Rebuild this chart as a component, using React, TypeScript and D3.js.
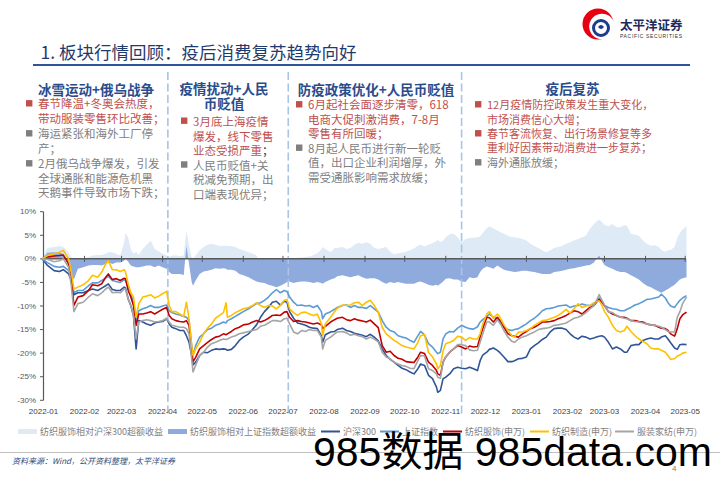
import React from "react";
import * as d3 from "d3";

// ---------------- DATA ----------------
const dates = [
  "2021-12-31","2022-01-04","2022-01-09","2022-01-13","2022-01-16","2022-01-20","2022-01-22","2022-01-24","2022-01-27","2022-01-31",
  "2022-02-04","2022-02-07","2022-02-11","2022-02-14","2022-02-17","2022-02-19","2022-02-22","2022-02-25","2022-02-28","2022-03-03",
  "2022-03-04","2022-03-06","2022-03-08","2022-03-10","2022-03-12","2022-03-14","2022-03-17","2022-03-20","2022-03-23","2022-03-26",
  "2022-03-29","2022-04-01","2022-04-04","2022-04-06","2022-04-08","2022-04-11","2022-04-14","2022-04-17","2022-04-19","2022-04-21",
  "2022-04-23","2022-04-24","2022-04-26","2022-04-29","2022-05-02","2022-05-05","2022-05-08","2022-05-11","2022-05-14","2022-05-17",
  "2022-05-19","2022-05-20","2022-05-23","2022-05-26","2022-05-29","2022-06-01","2022-06-05","2022-06-08","2022-06-11","2022-06-14",
  "2022-06-17","2022-06-20","2022-06-23","2022-06-26","2022-06-29","2022-07-02","2022-07-04","2022-07-06","2022-07-09","2022-07-12",
  "2022-07-15","2022-07-18","2022-07-21","2022-07-24","2022-07-27","2022-07-30","2022-07-31","2022-08-02","2022-08-06","2022-08-09",
  "2022-08-11","2022-08-15","2022-08-18","2022-08-21","2022-08-24","2022-08-27","2022-08-30","2022-09-02","2022-09-05","2022-09-08",
  "2022-09-11","2022-09-14","2022-09-17","2022-09-20","2022-09-23","2022-09-26","2022-09-29","2022-10-02","2022-10-05","2022-10-08",
  "2022-10-11","2022-10-13","2022-10-16","2022-10-19","2022-10-22","2022-10-25","2022-10-26","2022-10-28","2022-10-30","2022-11-01",
  "2022-11-04","2022-11-07","2022-11-10","2022-11-13","2022-11-16","2022-11-19","2022-11-22","2022-11-25","2022-11-27","2022-11-29",
  "2022-12-02","2022-12-04","2022-12-07","2022-12-10","2022-12-12","2022-12-15","2022-12-18","2022-12-21","2022-12-23","2022-12-26",
  "2022-12-29","2023-01-01","2023-01-04","2023-01-07","2023-01-10","2023-01-13","2023-01-16","2023-01-19","2023-01-22","2023-01-25",
  "2023-01-28","2023-01-31","2023-02-03","2023-02-06","2023-02-09","2023-02-12","2023-02-15","2023-02-18","2023-02-21","2023-02-23",
  "2023-02-25","2023-02-27","2023-03-01","2023-03-04","2023-03-07","2023-03-10","2023-03-13","2023-03-16","2023-03-18","2023-03-21",
  "2023-03-24","2023-03-27","2023-03-30","2023-04-02","2023-04-05","2023-04-08","2023-04-11","2023-04-13","2023-04-16","2023-04-18",
  "2023-04-20","2023-04-23","2023-04-25","2023-04-27","2023-04-29","2023-05-02",
];

// 沪深300
const hs300 = [
  0, -1.4, -2.5, -2.7, -2.3, -3.2, -4.6, -7.6, -7.2, -7.2,
  -6.7, -6.4, -6.7, -6.2, -5.7, -5.3, -6.5, -6.7, -6.7, -6.0,
  -6.2, -8.5, -9.9, -12.0, -19.1, -13.1, -13.4, -13.8, -14.1, -13.6,
  -13.4, -13.3, -12.7, -13.8, -14.5, -14.8, -15.2, -15.2, -16.3, -17.7,
  -20.5, -22.5, -21.9, -20.5, -19.8, -19.9, -19.4, -19.1, -19.2, -19.1,
  -19.2, -19.4, -19.2, -18.4, -17.3, -16.6, -15.9, -15.0, -14.0, -12.4,
  -11.2, -10.3, -9.2, -9.0, -9.8, -9.0, -9.2, -11.2, -12.6, -13.6,
  -13.8, -14.1, -14.5, -14.7, -14.8, -16.3, -17.7, -16.1, -15.5, -15.4,
  -15.0, -14.7, -15.2, -15.4, -15.8, -16.0, -16.2, -16.5, -16.0, -16.6,
  -17.4, -19.1, -20.5, -21.3, -21.9, -22.6, -23.2, -23.5, -24.0, -24.4,
  -23.3, -22.3, -22.6, -24.7, -25.4, -27.2, -28.3, -27.9, -25.4, -25.1,
  -24.4, -23.3, -23.0, -23.2, -23.3, -23.0, -23.3, -23.7, -21.6, -20.4,
  -19.8, -19.2, -18.9, -19.4, -19.9, -20.8, -21.8, -21.8, -21.6, -21.2,
  -21.1, -20.8, -19.1, -18.4, -17.8, -17.1, -16.6, -15.5, -14.8, -14.7,
  -14.7, -15.0, -15.9, -16.6, -17.0, -16.4, -16.6, -17.0, -16.8, -16.6,
  -16.4, -16.3, -16.6, -17.7, -19.1, -18.7, -19.1, -19.8, -19.8, -18.4,
  -18.2, -18.2, -17.3, -17.0, -16.8, -17.0, -17.0, -16.6, -16.3, -17.0,
  -17.8, -18.9, -19.2, -18.2, -18.1, -18.2,
];

// 上证指数
const shIndex = [
  0, -0.8, -1.6, -1.8, -1.6, -2.5, -3.9, -7.2, -6.7, -6.7,
  -5.7, -5.1, -5.1, -4.6, -4.1, -3.7, -4.6, -4.8, -5.0, -4.4,
  -4.6, -6.0, -7.4, -9.2, -13.1, -11.0, -10.6, -10.3, -9.9, -10.3,
  -10.3, -10.0, -9.8, -11.0, -11.4, -11.7, -11.9, -12.2, -12.4, -13.1,
  -18.4, -20.5, -18.4, -16.6, -15.9, -15.0, -14.7, -14.1, -13.8, -13.4,
  -13.6, -13.1, -12.7, -12.2, -11.7, -11.2, -10.6, -10.0, -9.5, -9.3,
  -8.8, -8.1, -7.2, -6.5, -7.2, -6.7, -6.9, -8.1, -9.2, -9.9,
  -9.8, -10.0, -9.9, -10.3, -9.9, -11.2, -12.7, -11.7, -11.2, -10.7,
  -10.3, -9.9, -9.8, -10.3, -9.9, -10.3, -10.3, -10.5, -9.9, -10.6,
  -11.3, -13.1, -14.5, -15.2, -15.5, -16.3, -16.6, -16.8, -17.3, -17.7,
  -16.3, -15.4, -16.1, -18.0, -18.7, -19.8, -20.1, -19.8, -17.0, -15.9,
  -15.4, -15.5, -14.7, -14.1, -14.5, -14.8, -14.9, -14.4, -13.4, -12.9,
  -12.2, -11.7, -12.4, -12.7, -13.6, -14.5, -15.0, -15.2, -15.0, -14.8,
  -14.3, -13.8, -13.1, -12.6, -11.9, -11.0, -10.6, -10.5, -10.3, -10.0,
  -9.9, -9.8, -10.3, -10.0, -9.9, -9.6, -9.8, -9.9, -9.5, -9.1,
  -8.3, -8.8, -9.9, -10.3, -10.6, -10.7, -11.0, -11.0, -10.7, -10.3,
  -9.8, -9.5, -9.1, -8.6, -8.5, -8.3, -8.1, -7.5, -8.3, -9.3,
  -10.0, -10.3, -9.5, -8.8, -8.3, -7.8,
];

// 纺织服饰(申万)
const textileApparel = [
  0, 0.4, 0.6, 0.7, 0.8, -1.1, -4.2, -9.9, -8.1, -7.8,
  -6.7, -5.5, -5.7, -5.3, -3.9, -3.2, -4.4, -4.2, -4.6, -4.1,
  -4.2, -6.7, -8.1, -9.9, -14.1, -11.7, -11.7, -11.5, -11.2, -11.7,
  -11.2, -10.7, -10.3, -12.0, -12.7, -13.1, -13.3, -13.4, -13.1, -14.1,
  -19.4, -21.8, -20.9, -19.1, -18.4, -17.7, -17.1, -16.6, -16.4, -15.9,
  -16.1, -15.9, -15.4, -14.8, -14.5, -14.0, -13.8, -13.4, -13.1, -13.4,
  -13.1, -12.6, -12.0, -11.9, -12.0, -11.3, -11.2, -12.4, -13.3, -13.1,
  -13.3, -13.4, -13.6, -13.8, -13.6, -14.0, -14.8, -14.3, -13.4, -12.9,
  -12.6, -12.4, -12.9, -13.1, -12.7, -13.0, -13.2, -13.4, -13.0, -13.8,
  -14.6, -18.4, -19.8, -19.6, -20.5, -21.1, -21.3, -21.8, -21.9, -22.0,
  -20.8, -19.8, -20.1, -21.9, -22.6, -23.7, -24.4, -24.7, -21.9, -20.8,
  -19.8, -19.1, -18.4, -18.7, -19.1, -18.5, -18.7, -18.6, -16.6, -14.8,
  -12.4, -12.5, -13.4, -12.4, -13.1, -14.5, -15.9, -16.3, -16.4, -16.6,
  -15.9, -15.4, -14.8, -14.5, -14.0, -13.4, -13.4, -13.3, -13.1, -12.7,
  -12.4, -12.0, -11.5, -11.0, -11.2, -11.7, -11.0, -10.3, -9.9, -9.2,
  -8.6, -9.2, -9.9, -11.2, -11.7, -12.0, -12.4, -12.4, -12.6, -13.1,
  -13.1, -13.3, -13.4, -13.8, -14.0, -14.1, -14.5, -14.7, -14.8, -15.2,
  -15.9, -16.4, -14.8, -12.7, -11.9, -11.3,
];

// 纺织制造(申万)
const textileMfg = [
  0, 0.7, 1.1, 1.4, 1.8, 0.0, -2.8, -6.4, -6.0, -5.5,
  -4.6, -3.5, -3.9, -2.8, -1.1, -0.4, -2.3, -2.3, -2.7, -2.3,
  -2.8, -5.3, -7.2, -8.1, -12.4, -9.5, -8.1, -7.9, -7.6, -8.3,
  -7.9, -7.4, -6.9, -9.9, -11.2, -11.2, -11.7, -12.2, -9.2, -12.7,
  -18.4, -20.5, -19.1, -17.7, -15.9, -14.7, -13.8, -12.6, -12.0, -11.4,
  -9.3, -12.4, -12.0, -11.4, -11.0, -10.6, -10.3, -9.9, -9.3, -9.9,
  -10.3, -9.9, -10.0, -10.6, -9.9, -8.8, -8.6, -10.6, -11.4, -12.0,
  -11.4, -11.3, -11.7, -12.0, -11.7, -13.8, -16.3, -13.8, -12.4, -11.2,
  -10.5, -9.8, -9.9, -9.8, -9.3, -9.2, -9.9, -9.2, -8.8, -9.9,
  -11.3, -14.5, -15.9, -16.6, -17.3, -17.8, -18.4, -18.7, -18.9, -19.1,
  -17.7, -16.3, -16.1, -19.8, -20.8, -22.3, -23.3, -22.6, -19.5, -18.0,
  -17.7, -17.3, -16.4, -16.6, -17.3, -16.7, -17.0, -17.0, -15.9, -13.8,
  -11.7, -11.2, -12.6, -11.7, -12.4, -14.0, -15.2, -16.3, -16.6, -15.5,
  -15.5, -15.2, -14.8, -14.1, -13.6, -13.1, -13.0, -12.7, -12.4, -12.0,
  -11.4, -10.7, -11.5, -10.6, -9.5, -10.3, -10.0, -9.9, -9.3, -9.1,
  -8.9, -9.8, -11.2, -12.4, -14.1, -15.2, -15.5, -15.2, -14.3, -15.4,
  -16.3, -17.0, -17.5, -18.0, -18.9, -19.1, -19.1, -19.4, -19.8, -20.5,
  -21.3, -21.2, -20.6, -20.4, -20.0, -19.8,
];

// 服装家纺(申万)
const apparelHome = [
  0, -0.1, -0.6, -0.4, 0.0, -1.8, -5.7, -11.2, -9.5, -9.2,
  -8.1, -7.4, -7.8, -7.2, -6.4, -6.0, -7.2, -7.1, -7.2, -6.4,
  -6.4, -8.5, -9.9, -12.0, -17.0, -13.4, -13.1, -12.9, -13.1, -13.4,
  -13.3, -13.1, -12.6, -13.4, -14.1, -14.3, -14.5, -14.5, -14.8, -15.9,
  -21.2, -24.0, -22.6, -20.5, -19.8, -18.7, -18.0, -17.7, -17.3, -17.0,
  -17.1, -17.0, -16.6, -16.3, -15.9, -15.7, -15.4, -15.2, -15.0, -14.3,
  -14.1, -13.6, -13.1, -13.1, -13.3, -12.7, -12.6, -13.8, -15.5, -15.9,
  -15.2, -15.4, -15.0, -15.2, -15.2, -16.6, -19.1, -17.3, -16.6, -15.9,
  -15.5, -15.4, -15.7, -16.2, -16.0, -16.3, -16.5, -17.0, -16.6, -17.0,
  -17.6, -19.8, -20.8, -21.2, -21.9, -22.3, -22.6, -22.8, -23.2, -23.3,
  -21.6, -20.5, -20.6, -23.3, -23.7, -24.4, -25.1, -25.3, -21.9, -20.8,
  -19.8, -19.1, -18.2, -18.2, -18.4, -19.3, -19.5, -19.4, -17.7, -15.9,
  -13.4, -13.4, -14.1, -12.9, -13.6, -15.2, -16.6, -17.5, -17.7, -17.0,
  -16.6, -16.3, -15.9, -15.5, -15.0, -14.8, -14.7, -14.5, -14.1, -14.0,
  -13.8, -13.6, -13.1, -12.6, -12.4, -12.0, -11.4, -10.6, -9.9, -8.8,
  -7.6, -8.8, -9.8, -11.2, -11.4, -12.0, -12.4, -12.6, -12.7, -13.1,
  -13.3, -13.4, -13.6, -13.8, -14.0, -14.1, -14.3, -14.5, -15.0, -15.4,
  -15.5, -15.5, -12.4, -11.2, -9.5, -8.1,
];

// 纺织服饰相对沪深300超额收益
const excessVsHs300 = [
  0, 2.3, 2.5, 2.7, 2.5, 1.4, 0.4, -1.1, 0.0, 0.1,
  0.4, 0.7, 0.8, 0.8, 1.1, 1.4, 1.4, 1.1, 0.7, 3.5,
  5.5, 4.6, 2.1, 1.1, 1.5, 0.8, 2.1, 3.0, 3.9, 2.1,
  1.6, 1.1, 0.7, 0.4, 0.7, 0.7, 0.6, 0.7, 6.0, 2.8,
  0.4, 0.0, 0.7, 1.8, 2.5, 3.0, 3.2, 3.0, 2.7, 2.8,
  2.8, 2.7, 2.7, 2.5, 2.1, 1.8, 1.4, 1.1, 0.7, -1.0,
  -1.9, -2.3, -2.8, -2.8, -2.3, -2.3, -2.0, -1.2, -0.7, 0.3,
  0.3, 0.4, 0.5, 0.8, 1.2, 2.0, 2.5, 2.1, 1.4, 2.3,
  2.3, 2.5, 2.1, 2.3, 3.0, 3.4, 3.2, 3.5, 3.2, 2.3,
  2.1, 2.3, 2.5, 1.5, 1.0, 1.2, 1.3, 1.5, 1.8, 2.2,
  2.8, 3.0, 2.6, 3.0, 3.3, 3.8, 4.0, 3.6, 3.8, 4.6,
  5.2, 5.4, 4.6, 3.5, 4.2, 4.4, 4.5, 4.6, 4.8, 5.5,
  6.5, 6.9, 6.5, 6.0, 5.7, 5.3, 4.9, 4.6, 4.6, 4.4,
  4.2, 3.9, 3.2, 2.7, 2.3, 1.8, 1.4, 1.8, 2.3, 2.5,
  2.7, 3.2, 3.5, 3.9, 4.2, 4.6, 4.9, 6.4, 7.4, 7.9,
  8.3, 7.8, 7.2, 6.9, 7.4, 6.7, 6.7, 7.2, 7.0, 5.3,
  5.1, 4.9, 3.9, 3.2, 2.8, 2.9, 2.5, 1.9, 1.5, 1.8,
  1.9, 2.5, 4.4, 5.5, 6.2, 6.9,
];

// 纺织服饰相对上证指数超额收益
const excessVsSh = [
  0, 1.3, 1.4, 1.4, 1.1, -1.1, -3.5, -4.4, -2.1, -1.8,
  -1.4, -1.3, -1.3, -1.4, -1.1, -0.7, -1.1, -0.8, -0.8, -0.4,
  0.0, -0.6, -1.4, -1.6, -1.8, -1.8, -1.6, -1.4, -1.4, -1.8,
  -1.4, -1.8, -2.1, -2.8, -3.2, -3.2, -3.2, -3.4, 2.8, -1.1,
  -4.9, -5.7, -4.6, -3.2, -2.7, -2.5, -2.3, -2.0, -2.1, -2.0,
  -2.1, -2.3, -2.3, -2.5, -3.2, -3.5, -3.9, -4.4, -4.8, -5.0,
  -5.1, -5.5, -5.7, -6.0, -5.7, -5.3, -4.9, -4.8, -5.1, -4.9,
  -4.8, -4.8, -4.9, -5.1, -4.9, -5.1, -5.3, -4.9, -4.4, -4.1,
  -3.7, -3.5, -3.7, -3.9, -3.7, -3.5, -3.9, -4.2, -4.1, -4.1,
  -4.4, -4.9, -5.3, -4.9, -5.1, -4.9, -5.1, -5.3, -5.3, -5.3,
  -4.9, -4.8, -5.1, -5.5, -5.7, -5.5, -5.7, -5.3, -4.8, -4.2,
  -4.1, -4.4, -4.4, -4.8, -4.9, -3.9, -4.1, -3.9, -2.8, -2.1,
  -1.6, -1.8, -2.1, -1.4, -1.8, -2.3, -2.5, -2.7, -2.8, -2.7,
  -2.5, -2.5, -2.7, -2.8, -3.0, -3.2, -3.2, -3.2, -2.8, -2.7,
  -2.5, -2.3, -2.1, -2.0, -1.8, -1.6, -1.4, -1.3, -0.8, 0.0,
  0.7, -0.4, -1.3, -1.8, -2.1, -2.5, -2.8, -2.8, -3.0, -3.5,
  -3.9, -4.4, -5.1, -5.7, -6.0, -6.5, -6.9, -7.2, -6.7, -6.4,
  -6.0, -5.5, -4.9, -4.4, -4.1, -3.9,
];

const yTicks = [10, 5, 0, -5, -10, -15, -20, -25, -30];
const phaseDates = ["2022-04-05", "2022-07-05", "2022-11-13"];

const seriesLines = [
  { name: "沪深300", values: hs300, color: "#2F5597" },
  { name: "上证指数", values: shIndex, color: "#5B9BD5" },
  { name: "纺织服饰(申万)", values: textileApparel, color: "#C00000" },
  { name: "纺织制造(申万)", values: textileMfg, color: "#FFC000" },
  { name: "服装家纺(申万)", values: apparelHome, color: "#A5A5A5" },
];
const seriesAreas = [
  { name: "纺织服饰相对沪深300超额收益", values: excessVsHs300, color: "#DEEAF6" },
  { name: "纺织服饰相对上证指数超额收益", values: excessVsSh, color: "#8FAADC" },
];

const panels = [
  {
    title: ["冰雪运动+俄乌战争"],
    bullets: [
      { kind: "red", lines: ["春节降温+冬奥会热度，", "带动服装零售环比改善；"] },
      { kind: "gray", lines: ["海运紧张和海外工厂停", "产；"] },
      { kind: "gray", lines: ["2月俄乌战争爆发，引发", "全球通胀和能源危机黑", "天鹅事件导致市场下跌；"] },
    ],
  },
  {
    title: ["疫情扰动+人民", "币贬值"],
    bullets: [
      { kind: "red", lines: ["3月底上海疫情", "爆发，线下零售", "业态受损严重；"], darkTail: true },
      { kind: "gray", lines: ["人民币贬值+关", "税减免预期，出", "口端表现优异；"] },
    ],
  },
  {
    title: ["防疫政策优化+人民币贬值"],
    bullets: [
      { kind: "red", lines: ["6月起社会面逐步清零，618", "电商大促刺激消费，7-8月", "零售有所回暖；"] },
      { kind: "gray", lines: ["8月起人民币进行新一轮贬", "值，出口企业利润增厚，外", "需受通胀影响需求放缓；"] },
    ],
  },
  {
    title: ["疫后复苏"],
    bullets: [
      { kind: "red", lines: ["12月疫情防控政策发生重大变化，", "市场消费信心大增；"] },
      { kind: "red", lines: ["春节客流恢复、出行场景修复等多", "重利好因素带动消费进一步复苏；"] },
      { kind: "gray", lines: ["海外通胀放缓；"] },
    ],
  },
];

// layout for text panels
const panelLayout = [
  { cx: 96, titleYs: [89], bx: 26, tx: 38, ys: [103.3, 118.3, 133.3, 148.3, 163.3, 177.7, 192.3], fs: 11.5 },
  { cx: 224, titleYs: [88.3, 103.3], bx: 181, tx: 193, ys: [120.7, 135.5, 150, 164.5, 179, 193.5], fs: 11.5 },
  { cx: 376, titleYs: [89], bx: 296, tx: 308, ys: [104.3, 119.3, 133.3, 147.7, 162.3, 176.7], fs: 11.5 },
  { cx: 572.5, titleYs: [88.3], bx: 475, tx: 487, ys: [104.3, 118.7, 133.3, 147.3, 162.3], fs: 11 },
];

const CJK = "'Noto Sans CJK SC', 'Noto Sans', sans-serif";
const LAT = "'Liberation Sans', Arial, 'Noto Sans CJK SC', sans-serif";
const RED = "#C0504D";
const GRAY = "#808080";

export default function App() {
  const parse = d3.timeParse("%Y-%m-%d");
  const D = dates.map((d) => parse(d) as Date);
  const x = d3.scaleTime().domain([new Date(2022, 0, 1), new Date(2023, 4, 1)]).range([43.5, 685.2]);
  const y = d3.scaleLinear().domain([-30, 10]).range([400.3, 211.7]);
  const lineGen = d3.line<number>().x((_, i) => x(D[i])).y((v) => y(v));
  const areaGen = d3.area<number>().x((_, i) => x(D[i])).y0(y(0)).y1((v) => y(v));
  const months = d3.timeMonth.range(new Date(2022, 0, 1), new Date(2023, 4, 2));
  const fmt = d3.timeFormat("%Y-%m");
  const y0 = y(0);

  const legend = [
    { type: "rect", color: seriesAreas[0].color, label: seriesAreas[0].name, x: 18 },
    { type: "rect", color: seriesAreas[1].color, label: seriesAreas[1].name, x: 168 },
    { type: "line", color: seriesLines[0].color, label: seriesLines[0].name, x: 321 },
    { type: "line", color: seriesLines[1].color, label: seriesLines[1].name, x: 380 },
    { type: "line", color: seriesLines[2].color, label: seriesLines[2].name, x: 443 },
    { type: "line", color: seriesLines[3].color, label: seriesLines[3].name, x: 530 },
    { type: "line", color: seriesLines[4].color, label: seriesLines[4].name, x: 615 },
  ];

  return (
    <svg width={720} height={483} viewBox="0 0 720 483"
      style={{ position: "absolute", left: 0, top: 0, background: "#fff" }}
      fontFamily={CJK}>
      <rect x={0} y={0} width={720} height={483} fill="#fff" />

      {/* title */}
      <text x={40.5} y={58.5} fontSize={17.5} fill="#1F3B6E" fontFamily={CJK}>1. 板块行情回顾：疫后消费复苏趋势向好</text>
      <line x1={33} x2={690} y1={65} y2={65} stroke="#2F5597" strokeWidth={1.8} />

      {/* logo */}
      <g>
        <circle cx={598} cy={24} r={15.5} fill="#E60012" />
        <circle cx={602} cy={26.5} r={12.8} fill="#fff" />
        <circle cx={601} cy={28} r={7.5} fill="none" stroke="#1E3C8C" strokeWidth={3} />
        <path d="M 598 27 Q 601 23 604 27 Q 601 31 598 27 Z" fill="#1E3C8C" />
        <text x={620} y={30} fontSize={12.5} fontWeight="bold" fill="#1F2A5C" fontFamily={CJK}>太平洋证券</text>
        <text x={620} y={37.5} fontSize={5} fill="#333" fontFamily={LAT} textLength={62} lengthAdjust="spacing">PACIFIC SECURITIES</text>
      </g>

      {/* text panels */}
      {panels.map((p, pi) => {
        const L = panelLayout[pi];
        let li = 0;
        return (
          <g key={pi}>
            {p.title.map((t, ti) => (
              <text key={ti} x={L.cx} y={L.titleYs[ti]} textAnchor="middle" dominantBaseline="central"
                fontSize={13.5} fontWeight="bold" fill="#2B4C8C">{t}</text>
            ))}
            {p.bullets.map((b, bi) => {
              const col = b.kind === "red" ? RED : GRAY;
              const els = b.lines.map((ln, k) => {
                const yy = L.ys[li++];
                const isLast = k === b.lines.length - 1;
                return (
                  <g key={k}>
                    {k === 0 && <rect x={L.bx} y={yy - 3.2} width={6.4} height={6.4} fill={b.kind === "red" ? RED : "#7F7F7F"} />}
                    <text x={L.tx} y={yy} dominantBaseline="central" fontSize={L.fs} fill={col}>
                      {(b as any).darkTail && isLast ? (
                        <>
                          <tspan>{ln.slice(0, -1)}</tspan>
                          <tspan fill="#333">{ln.slice(-1)}</tspan>
                        </>
                      ) : ln}
                    </text>
                  </g>
                );
              });
              return <g key={bi}>{els}</g>;
            })}
          </g>
        );
      })}

      {/* areas */}
      {seriesAreas.map((s) => (
        <path key={s.name} d={areaGen(s.values) ?? ""} fill={s.color} stroke="none" />
      ))}

      {/* phase separators */}
      {phaseDates.map((d) => {
        const px = x(parse(d) as Date);
        return <line key={d} x1={px} x2={px} y1={72} y2={417} stroke="#A9C4E6" strokeWidth={1.6} strokeDasharray="8 3.5" />;
      })}

      {/* y axis */}
      <line x1={43.5} x2={43.5} y1={y(10)} y2={y(-30)} stroke="#595959" strokeWidth={1.2} />
      {yTicks.map((t) => (
        <g key={t}>
          <line x1={40} x2={43.5} y1={y(t)} y2={y(t)} stroke="#595959" strokeWidth={1} />
          <text x={36} y={y(t)} textAnchor="end" dominantBaseline="central" fontSize={8} fill="#595959" fontFamily={LAT}>{`${t}%`}</text>
        </g>
      ))}

      {/* zero axis with month ticks */}
      <line x1={43.5} x2={686} y1={y0} y2={y0} stroke="#595959" strokeWidth={1.5} />
      {months.map((m) => (
        <line key={+m} x1={x(m)} x2={x(m)} y1={y0 - 3} y2={y0 + 3} stroke="#595959" strokeWidth={1} />
      ))}
      {months.map((m) => (
        <text key={"l" + +m} x={x(m)} y={411.7} textAnchor="middle" dominantBaseline="central" fontSize={8} fill="#404040" fontFamily={LAT}>{fmt(m)}</text>
      ))}

      {/* lines */}
      {seriesLines.map((s) => (
        <path key={s.name} d={lineGen(s.values) ?? ""} fill="none" stroke={s.color} strokeWidth={1.6} strokeLinejoin="round" />
      ))}

      {/* legend */}
      {legend.map((it) => (
        <g key={it.label}>
          {it.type === "rect" ? (
            <rect x={it.x} y={429} width={19} height={5} fill={it.color} />
          ) : (
            <line x1={it.x} x2={it.x + 19} y1={431.5} y2={431.5} stroke={it.color} strokeWidth={2} />
          )}
          <text x={it.x + 22} y={431.7} dominantBaseline="central" fontSize={9} fill="#7F7F7F">{it.label}</text>
        </g>
      ))}

      {/* footer */}
      <line x1={0} x2={720} y1={452.5} y2={452.5} stroke="#BFBFBF" strokeWidth={1} />
      <text x={12} y={460.5} dominantBaseline="central" fontSize={8} fontStyle="italic" fill="#2E4A7D">资料来源：Wind，公开资料整理，太平洋证券</text>
      <text x={672} y={468} dominantBaseline="central" fontSize={8} fill="#7F7F7F" fontFamily={LAT}>4</text>

      {/* watermark */}
      <text x={313} y={466} fontSize={41} fill="#000" fontFamily={LAT}>985数据 985data.com</text>
    </svg>
  );
}
